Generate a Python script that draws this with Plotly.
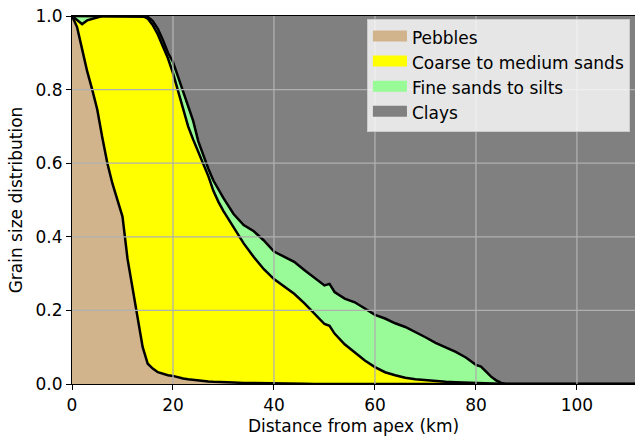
import plotly.graph_objects as go

# Distance from apex (km)
distance_km = [0, 1, 2, 3, 4, 5, 6, 7, 8, 9, 10, 11, 12, 13, 14, 15, 16, 17, 18, 19,
               20, 21, 22, 23, 24, 25, 26, 27, 28, 29, 30, 32, 34, 36, 38, 40, 42, 44,
               46, 48, 50, 51, 52, 54, 56, 58, 60, 62, 64, 66, 68, 70, 72, 74, 76, 78,
               80, 81, 82, 83, 84, 85, 86, 90, 100, 112]

# Cumulative fraction: pebbles
pebbles_top = [1.0, 0.97, 0.91, 0.85, 0.80, 0.746, 0.67, 0.60, 0.545, 0.50, 0.455, 0.34,
               0.26, 0.19, 0.10, 0.055, 0.042, 0.032, 0.027, 0.024,
               0.022, 0.018, 0.015, 0.013, 0.011, 0.009, 0.008, 0.007, 0.006, 0.006,
               0.005, 0.004, 0.003, 0.003, 0.002, 0.002, 0.001, 0.001,
               0.001, 0.0, 0.0, 0.0, 0.0, 0.0, 0.0, 0.0, 0.0, 0.0, 0.0, 0.0, 0.0, 0.0,
               0.0, 0.0, 0.0, 0.0, 0.0, 0.0, 0.0, 0.0, 0.0, 0.0, 0.0, 0.0, 0.0, 0.0]

# Cumulative fraction: pebbles + coarse to medium sands
sands_top = [1.0, 0.99, 0.978, 0.988, 0.992, 0.998, 1.0, 1.0, 1.0, 0.999, 1.0, 1.0,
             1.0, 1.0, 1.0, 0.993, 0.975, 0.95, 0.918, 0.885,
             0.845, 0.795, 0.75, 0.70, 0.664, 0.63, 0.597, 0.565, 0.525, 0.495,
             0.47, 0.425, 0.382, 0.345, 0.312, 0.285, 0.265, 0.245,
             0.22, 0.19, 0.163, 0.158, 0.137, 0.108, 0.085, 0.064, 0.046, 0.032,
             0.024, 0.017, 0.013, 0.010, 0.008, 0.006, 0.005, 0.004,
             0.003, 0.0025, 0.002, 0.0015, 0.001, 0.0, 0.0, 0.0, 0.0, 0.0]

# Cumulative fraction: + fine sands to silts
silts_top = [1.0, 1.0, 1.0, 1.0, 1.0, 1.0, 1.0, 1.0, 1.0, 1.0, 1.0, 1.0,
             1.0, 1.0, 1.0, 0.998, 0.986, 0.965, 0.935, 0.90,
             0.875, 0.835, 0.79, 0.75, 0.715, 0.66, 0.62, 0.585, 0.553, 0.528,
             0.505, 0.462, 0.432, 0.415, 0.39, 0.36, 0.347, 0.332,
             0.31, 0.288, 0.268, 0.272, 0.25, 0.232, 0.222, 0.205, 0.188, 0.178,
             0.165, 0.155, 0.142, 0.127, 0.112, 0.10, 0.087, 0.072,
             0.052, 0.047, 0.032, 0.02, 0.01, 0.003, 0.0, 0.0, 0.0, 0.0]

# Cumulative fraction: + clays (total)
clays_top = [1.0] * len(distance_km)

class_names = ["Pebbles", "Coarse to medium sands", "Fine sands to silts", "Clays"]
class_colors = ["#D2B48C", "#FFFF00", "#98FB98", "#808080"]

x_ticks = [0, 20, 40, 60, 80, 100]
y_ticks = [0.0, 0.2, 0.4, 0.6, 0.8, 1.0]

fig = go.Figure()

boundaries = [pebbles_top, sands_top, silts_top, clays_top]
for i, (name, color, yb) in enumerate(zip(class_names, class_colors, boundaries)):
    fig.add_trace(go.Scatter(
        x=distance_km, y=yb, mode="lines",
        fill="tozeroy" if i == 0 else "tonexty",
        fillcolor=color, line=dict(width=0, color=color),
        showlegend=False, hoverinfo="skip"))

# black boundary lines
for yb in [pebbles_top, sands_top, silts_top]:
    fig.add_trace(go.Scatter(
        x=distance_km, y=yb, mode="lines",
        line=dict(color="black", width=2.5),
        showlegend=False, hoverinfo="skip"))

# legend entries
for i, (name, color) in enumerate(zip(class_names, class_colors)):
    fig.add_trace(go.Scatter(
        x=[None], y=[None], mode="lines", fill="toself",
        fillcolor=color, line=dict(color=color, width=10),
        name=name, legendgroup=str(i), showlegend=True))

grid_color = "#b0b0b0"
shapes = []
for xv in x_ticks[1:]:
    shapes.append(dict(type="line", xref="x", yref="paper", x0=xv, x1=xv, y0=0, y1=1,
                       line=dict(color=grid_color, width=1.3), layer="above"))
for yv in y_ticks[1:-1]:
    shapes.append(dict(type="line", xref="paper", yref="y", x0=0, x1=1, y0=yv, y1=yv,
                       line=dict(color=grid_color, width=1.3), layer="above"))

font = dict(family="DejaVu Sans", size=17, color="black")

fig.update_layout(
    width=635, height=439,
    margin=dict(l=72, r=0, t=16, b=55),
    paper_bgcolor="white", plot_bgcolor="white",
    font=font,
    shapes=shapes,
    showlegend=True,
    legend=dict(
        x=0.991, y=0.992, xanchor="right", yanchor="top",
        bgcolor="rgba(255,255,255,0.8)", bordercolor="#cccccc", borderwidth=1,
        font=font, itemwidth=34,
        tracegroupgap=1, traceorder="normal",
    ),
    xaxis=dict(
        range=[0, 111.5], tickvals=x_ticks, ticks="outside", ticklen=5,
        tickwidth=1.2, tickcolor="black", showline=True, linecolor="black",
        linewidth=1.2, mirror=True, showgrid=False, zeroline=False,
        title=dict(text="Distance from apex (km)", font=font, standoff=6),
        tickfont=font, layer="above traces",
    ),
    yaxis=dict(
        range=[0, 1], tickvals=y_ticks, tickformat=".1f", ticks="outside",
        ticklen=5, tickwidth=1.2, tickcolor="black", showline=True,
        linecolor="black", linewidth=1.2, showgrid=False, zeroline=False,
        title=dict(text="Grain size distribution", font=font, standoff=8),
        tickfont=font, layer="above traces",
    ),
)

fig.write_html("out.html")
